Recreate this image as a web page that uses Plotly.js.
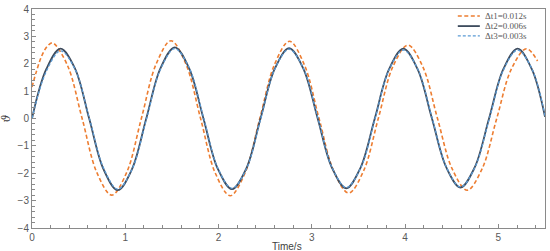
<!DOCTYPE html>
<html>
<head>
<meta charset="utf-8">
<script src="https://cdn.plot.ly/plotly-3.0.1.min.js"></script>
<style>
  html, body { margin: 0; padding: 0; background: #fff; }
  #chart { width: 550px; height: 251px; }
</style>
</head>
<body>
<div id="chart"></div>
<script>
// time grid (s)
const tA = [0, 0.153, 0.306, 0.459, 0.613, 0.766, 0.919, 1.072, 1.225, 1.378, 1.531, 1.684,
  1.838, 1.991, 2.144, 2.297, 2.45, 2.603, 2.756, 2.909, 3.063, 3.216, 3.369, 3.522, 3.675,
  3.828, 3.981, 4.134, 4.288, 4.441, 4.594, 4.747, 4.9, 5.053, 5.206, 5.359, 5.5];

// dt2 = 0.006 s (solid)
const theta2 = [0, 1.80, 2.55, 1.84, 0, -1.85, -2.62, -1.85, 0, 1.84, 2.60, 1.84,
  0, -1.83, -2.58, -1.83, 0, 1.82, 2.57, 1.82, 0, -1.80, -2.55, -1.80, 0,
  1.80, 2.55, 1.80, 0, -1.78, -2.52, -1.78, 0, 1.80, 2.55, 1.80, 0.06];

// dt3 = 0.003 s (light dashed)
const theta3 = [0, 1.72, 2.47, 1.82, 0.03, -1.80, -2.58, -1.86, -0.05, 1.80, 2.55, 1.86,
  0.05, -1.80, -2.55, -1.85, -0.04, 1.80, 2.53, 1.84, 0.04, -1.78, -2.52, -1.82, -0.04,
  1.78, 2.50, 1.82, 0.04, -1.76, -2.50, -1.80, -0.05, 1.76, 2.50, 1.82, 0.10];

// dt1 = 0.012 s (orange dashed)
const tB = [0, 0.05, 0.1, 0.16, 0.22, 0.379, 0.5375, 0.696, 0.855, 1.014, 1.1725, 1.331,
  1.49, 1.649, 1.8075, 1.966, 2.125, 2.284, 2.4425, 2.601, 2.76, 2.919, 3.0775, 3.236,
  3.395, 3.554, 3.7125, 3.871, 4.03, 4.189, 4.3475, 4.506, 4.665, 4.824, 4.9825, 5.141,
  5.30, 5.42];
const theta1 = [1.15, 1.75, 2.25, 2.62, 2.76, 1.95, 0, -1.98, -2.80, -1.98, 0, 1.99,
  2.84, 2.00, 0, -2.00, -2.82, -1.99, 0, 1.98, 2.82, 1.97, 0, -1.93,
  -2.72, -1.92, 0, 1.91, 2.68, 1.90, 0, -1.85, -2.62, -1.85, 0, 1.82,
  2.55, 2.10];

const seriesNames = ["\u0394t1=0.012s", "\u0394t2=0.006s", "\u0394t3=0.003s"];
const seriesColors = ["#ED7D31", "#3E4C5E", "#5B9BD5"];
const seriesDash = ["4px,2.5px", "solid", "3px,2px"];
const seriesWidth = [1.6, 1.8, 1.3];

const traces = [
  { x: tB, y: theta1 },
  { x: tA, y: theta2 },
  { x: tA, y: theta3 }
].map((d, i) => ({
  x: d.x, y: d.y, name: seriesNames[i], mode: "lines",
  line: { color: seriesColors[i], width: seriesWidth[i], dash: seriesDash[i], shape: "spline" }
}));

// hand-built legend (plotly's own rows are too tall for this layout)
const legendShapes = [];
const legendNotes = [];
const legendRowY = [0.968, 0.922, 0.877];
seriesNames.forEach((name, i) => {
  legendShapes.push({
    type: "line", xref: "paper", yref: "paper",
    x0: 0.830, x1: 0.873, y0: legendRowY[i], y1: legendRowY[i],
    line: { color: seriesColors[i], width: seriesWidth[i], dash: seriesDash[i] }
  });
  legendNotes.push({
    text: name, xref: "paper", yref: "paper", x: 0.879, y: legendRowY[i],
    xanchor: "left", yanchor: "middle", showarrow: false,
    font: { family: "Liberation Serif, Times New Roman, serif", size: 9, color: "#595959" }
  });
});

const axisCommon = {
  showgrid: false, zeroline: false,
  showline: true, mirror: true, linecolor: "#8a8a8a", linewidth: 1,
  ticks: "inside", ticklen: 4, tickcolor: "#8a8a8a",
  tickfont: { family: "Liberation Sans, Arial, sans-serif", size: 10, color: "#595959" },
  dtick: 1
};

const layout = {
  width: 550, height: 251,
  margin: { l: 32, r: 5, t: 9, b: 23 },
  paper_bgcolor: "#fff", plot_bgcolor: "#fff",
  showlegend: false,
  xaxis: Object.assign({}, axisCommon, {
    range: [0, 5.5], tick0: 0,
    minor: { dtick: 0.2, ticks: "inside", ticklen: 3, tickcolor: "#8a8a8a" }
  }),
  yaxis: Object.assign({}, axisCommon, {
    range: [-4, 4], tick0: 0,
    minor: { dtick: 0.2, ticks: "inside", ticklen: 3, tickcolor: "#8a8a8a" },
    title: {
      text: "<i>\u03D1</i>", standoff: 4,
      font: { family: "DejaVu Serif, serif", size: 11, color: "#404040" }
    }
  }),
  shapes: legendShapes,
  annotations: legendNotes.concat([{
    text: "Time/s", xref: "paper", yref: "paper", x: 0.497, y: 0, yshift: -18,
    xanchor: "center", yanchor: "middle", showarrow: false,
    font: { family: "Liberation Sans, Arial, sans-serif", size: 10, color: "#404040" }
  }])
};

Plotly.newPlot("chart", traces, layout, { displayModeBar: false, staticPlot: true });
</script>
</body>
</html>
